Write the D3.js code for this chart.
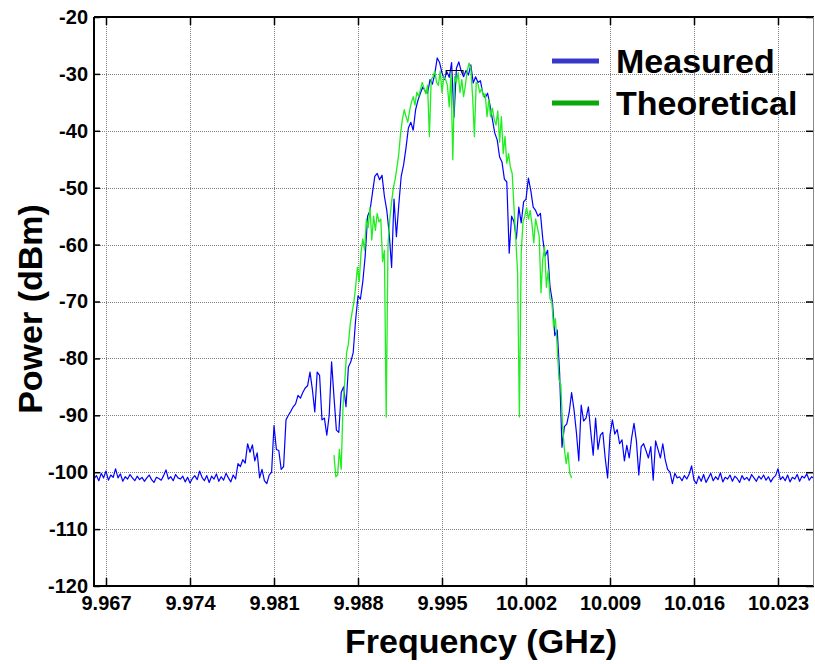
<!DOCTYPE html>
<html>
<head>
<meta charset="utf-8">
<script src="https://cdn.jsdelivr.net/npm/d3@7/dist/d3.min.js"></script>
<style>
  html, body { margin: 0; padding: 0; background: #fff; }
  svg { display: block; }
  text { font-family: "Liberation Sans", Arial, Helvetica, sans-serif; font-weight: bold; fill: #000; }
</style>
</head>
<body>
<svg id="chart" width="815" height="664"></svg>
<script>
// ---------------- DATA ----------------
const xDomain = [9.966, 10.026];
const yDomain = [-120, -20];
const xTickValues = [9.967, 9.974, 9.981, 9.988, 9.995, 10.002, 10.009, 10.016, 10.023];
const xTickLabels = ["9.967", "9.974", "9.981", "9.988", "9.995", "10.002", "10.009", "10.016", "10.023"];
const yTickValues = [-120, -110, -100, -90, -80, -70, -60, -50, -40, -30, -20];
const yTickLabels = ["-120", "-110", "-100", "-90", "-80", "-70", "-60", "-50", "-40", "-30", "-20"];
const seriesNames = ["Measured", "Theoretical"];

// Measured spectrum: sweep starting at 9.966 GHz, one point every 0.0002 GHz (dBm)
const measuredStart = 9.966;
const measuredStep = 0.0002;
const measuredPower = [
  -101.2,-100.6,-101.5,-100.2,-101.0,-99.8,-101.4,-100.5,-100.9,-99.4,
  -101.0,-100.3,-101.6,-100.8,-101.2,-100.4,-101.0,-101.5,-100.7,-101.3,
  -100.9,-101.6,-101.0,-100.5,-101.3,-101.8,-100.9,-101.1,-101.4,-100.6,
  -99.6,-101.2,-100.8,-101.5,-100.4,-101.0,-101.2,-100.7,-101.7,-100.9,
  -101.9,-101.1,-100.6,-101.3,-99.8,-100.9,-101.5,-100.6,-101.8,-100.7,
  -101.2,-100.3,-101.6,-100.8,-101.4,-100.2,-101.0,-101.7,-100.5,-101.2,
  -98.5,-99.0,-97.8,-98.4,-95.0,-96.5,-95.2,-98.0,-96.6,-101.0,
  -99.5,-101.5,-102.0,-100.5,-100.0,-91.8,-96.0,-96.2,-99.5,-99.0,
  -90.8,-90.0,-89.3,-88.5,-88.0,-86.5,-87.0,-86.0,-85.2,-84.8,
  -82.4,-85.5,-89.4,-82.4,-83.0,-90.8,-90.5,-93.5,-90.0,-80.6,
  -86.8,-92.6,-93.0,-86.0,-85.0,-88.5,-81.5,-80.6,-79.0,-73.3,
  -69.0,-69.6,-66.5,-62.0,-55.0,-54.0,-51.0,-48.0,-47.5,-48.6,
  -47.8,-51.5,-54.0,-58.0,-64.0,-52.0,-58.6,-53.0,-48.0,-46.0,
  -43.0,-39.5,-38.5,-39.9,-36.3,-34.6,-33.4,-32.3,-33.0,-33.4,
  -31.0,-31.8,-30.0,-27.2,-28.0,-29.8,-31.0,-29.6,-30.6,-28.0,
  -37.6,-29.0,-27.9,-29.5,-30.5,-29.4,-30.2,-28.4,-31.6,-30.5,
  -31.5,-31.2,-33.4,-34.2,-33.4,-35.5,-38.0,-40.4,-41.6,-44.6,
  -45.5,-48.5,-49.0,-61.5,-55.0,-56.0,-59.0,-53.4,-56.2,-52.5,
  -52.0,-48.3,-50.5,-53.4,-54.0,-55.0,-54.5,-59.0,-62.0,-61.0,
  -67.4,-70.0,-76.0,-75.0,-82.5,-95.6,-92.0,-91.5,-89.5,-86.0,
  -89.0,-93.0,-98.0,-88.2,-91.0,-90.5,-88.5,-93.0,-97.0,-90.5,
  -96.0,-93.5,-93.0,-97.5,-101.0,-93.5,-90.8,-93.3,-92.5,-95.0,
  -94.3,-98.0,-95.3,-97.5,-94.0,-91.4,-94.5,-100.5,-95.5,-95.0,
  -96.2,-97.5,-95.5,-101.4,-94.5,-96.0,-97.5,-95.0,-97.8,-99.5,
  -100.0,-102.0,-100.2,-101.0,-100.8,-101.5,-100.6,-101.2,-100.3,-98.9,
  -101.4,-102.0,-100.7,-101.6,-100.4,-101.8,-101.0,-100.2,-101.5,-100.8,
  -101.3,-100.1,-101.7,-100.9,-101.2,-100.5,-101.6,-100.7,-101.1,-101.8,
  -100.6,-101.3,-100.9,-101.5,-100.4,-101.0,-101.6,-100.7,-101.2,-100.5,
  -101.4,-100.8,-101.7,-101.0,-100.6,-99.4,-101.3,-100.8,-101.5,-100.5,
  -101.7,-100.9,-101.2,-100.4,-101.6,-100.7,-101.0,-100.3,-101.4,-100.8,
  -101.1
];

// Theoretical spectrum: starting at 9.986 GHz, one point every 0.00015 GHz (dBm)
const theoreticalStart = 9.986;
const theoreticalStep = 0.00015;
const theoreticalPower = [
  -97.0,-100.8,-100.5,-96.0,-99.5,-88.5,-84.0,-79.0,-77.5,-74.0,
  -72.0,-70.3,-67.5,-64.0,-66.5,-61.5,-59.0,-61.0,-55.5,-57.0,
  -53.5,-59.2,-55.0,-57.5,-54.5,-56.0,-55.5,-63.0,-61.0,-90.3,
  -60.0,-55.5,-52.5,-50.0,-48.5,-46.4,-44.0,-40.4,-38.0,-36.3,
  -37.5,-38.5,-36.5,-35.0,-34.0,-35.5,-33.2,-34.0,-32.8,-31.5,
  -32.5,-33.5,-32.0,-41.0,-31.0,-30.5,-29.5,-31.5,-32.0,-29.5,
  -33.3,-30.5,-31.0,-32.0,-35.8,-30.0,-45.1,-30.5,-31.5,-29.8,
  -33.3,-31.0,-34.0,-32.0,-29.5,-28.1,-29.0,-34.0,-41.0,-31.5,
  -31.8,-33.3,-32.5,-34.0,-33.5,-37.5,-34.5,-37.5,-36.0,-38.0,
  -39.0,-36.5,-42.0,-37.5,-44.0,-41.0,-45.7,-44.0,-46.4,-47.5,
  -53.5,-59.0,-65.0,-90.3,-61.5,-56.0,-55.0,-53.5,-55.5,-54.0,
  -56.5,-59.7,-55.5,-57.0,-58.5,-68.5,-62.5,-60.5,-67.5,-64.5,
  -69.5,-70.0,-74.5,-73.0,-78.0,-83.8,-84.5,-92.0,-96.0,-98.5,
  -96.5,-100.2,-101.0
];

// Peak marker annotation (frequency span, level)
const markerFreqs = [9.99535, 9.99675];
const markerLevel = -29.4;

// ---------------- CHART ----------------
const W = 815, H = 664;
const plot = { left: 94, right: 814, top: 17, bottom: 586 };

const svg = d3.select("#chart");
const x = d3.scaleLinear().domain(xDomain).range([plot.left, plot.right]);
const y = d3.scaleLinear().domain(yDomain).range([plot.bottom, plot.top]);

svg.append("defs").append("clipPath").attr("id", "clip")
  .append("rect")
  .attr("x", plot.left).attr("y", plot.top)
  .attr("width", plot.right - plot.left).attr("height", plot.bottom - plot.top);

// grid
const grid = svg.append("g").attr("stroke", "#808080").attr("stroke-width", 1)
  .attr("stroke-dasharray", "1,1").attr("shape-rendering", "crispEdges");
grid.selectAll("line.v").data(xTickValues).join("line").attr("class", "v")
  .attr("x1", d => Math.round(x(d)) + 0.5).attr("x2", d => Math.round(x(d)) + 0.5)
  .attr("y1", plot.top).attr("y2", plot.bottom);
grid.selectAll("line.h").data(yTickValues.slice(1, -1)).join("line").attr("class", "h")
  .attr("y1", d => Math.round(y(d)) + 0.5).attr("y2", d => Math.round(y(d)) + 0.5)
  .attr("x1", plot.left).attr("x2", plot.right);

// series
const measured = measuredPower.map((p, i) => ({ f: measuredStart + i * measuredStep, p }));
const theoretical = theoreticalPower.map((p, i) => ({ f: theoreticalStart + i * theoreticalStep, p }));
const line = d3.line().x(d => x(d.f)).y(d => y(d.p));

const dataG = svg.append("g").attr("clip-path", "url(#clip)");
dataG.append("path").datum(measured)
  .attr("fill", "none").attr("stroke", "#0000ff").attr("stroke-width", 1.2)
  .attr("stroke-linejoin", "round").attr("d", line);
dataG.append("path").datum(theoretical)
  .attr("fill", "none").attr("stroke", "#1fee1f").attr("stroke-width", 1.3)
  .attr("stroke-linejoin", "round").attr("d", line);

// marker
const mx0 = x(markerFreqs[0]), mx1 = x(markerFreqs[1]), my = y(markerLevel);
svg.append("path")
  .attr("d", `M${mx0},${my + 4}V${my}H${mx1}V${my + 4}`)
  .attr("fill", "none").attr("stroke", "#000").attr("stroke-width", 1.2);

// axes
const fmtX = d => xTickLabels[xTickValues.indexOf(d)];
const fmtY = d => yTickLabels[yTickValues.indexOf(d)];

const xAxis = svg.append("g").attr("transform", `translate(0,${plot.bottom})`)
  .call(d3.axisBottom(x).tickValues(xTickValues).tickFormat(fmtX).tickSizeInner(-8).tickSizeOuter(0).tickPadding(10));
const yAxis = svg.append("g").attr("transform", `translate(${plot.left},0)`)
  .call(d3.axisLeft(y).tickValues(yTickValues).tickFormat(fmtY).tickSizeInner(-6).tickSizeOuter(0).tickPadding(6));
const xTop = svg.append("g").attr("transform", `translate(0,${plot.top})`)
  .call(d3.axisTop(x).tickValues(xTickValues).tickFormat("").tickSizeInner(-8).tickSizeOuter(0));
const yRight = svg.append("g").attr("transform", `translate(${plot.right},0)`)
  .call(d3.axisRight(y).tickValues(yTickValues).tickFormat("").tickSizeInner(-8).tickSizeOuter(0));

[xAxis, yAxis, xTop, yRight].forEach(g => {
  g.select(".domain").remove();
  g.selectAll(".tick line").attr("stroke", "#000").attr("stroke-width", 1.5);
  g.selectAll("text").attr("font-size", 20).attr("font-weight", "bold")
    .attr("font-family", "'Liberation Sans', Arial, sans-serif").attr("fill", "#000");
});

// frame
svg.append("path")
  .attr("d", `M${plot.left},${plot.top}H${plot.right}M${plot.left},${plot.top}V${plot.bottom}H${plot.right}`)
  .attr("fill", "none").attr("stroke", "#000").attr("stroke-width", 2);
svg.append("line")
  .attr("x1", plot.right - 0.5).attr("x2", plot.right - 0.5)
  .attr("y1", plot.top).attr("y2", plot.bottom)
  .attr("stroke", "#888").attr("stroke-width", 1);

// axis titles
svg.append("text").attr("x", 481).attr("y", 653).attr("text-anchor", "middle")
  .attr("font-size", 34).text("Frequency (GHz)");
svg.append("text").attr("transform", "translate(42,309) rotate(-90)").attr("text-anchor", "middle")
  .attr("font-size", 34).text("Power (dBm)");

// legend
const legendColors = ["#3838c8", "#0aa80a"];
const legendY = [61, 103];
const legend = svg.append("g");
seriesNames.forEach((name, i) => {
  legend.append("line").attr("x1", 552).attr("x2", 599)
    .attr("y1", legendY[i]).attr("y2", legendY[i])
    .attr("stroke", legendColors[i]).attr("stroke-width", 5);
  legend.append("text").attr("x", 616).attr("y", legendY[i] + 11.5)
    .attr("font-size", 34).text(name);
});
</script>
</body>
</html>
